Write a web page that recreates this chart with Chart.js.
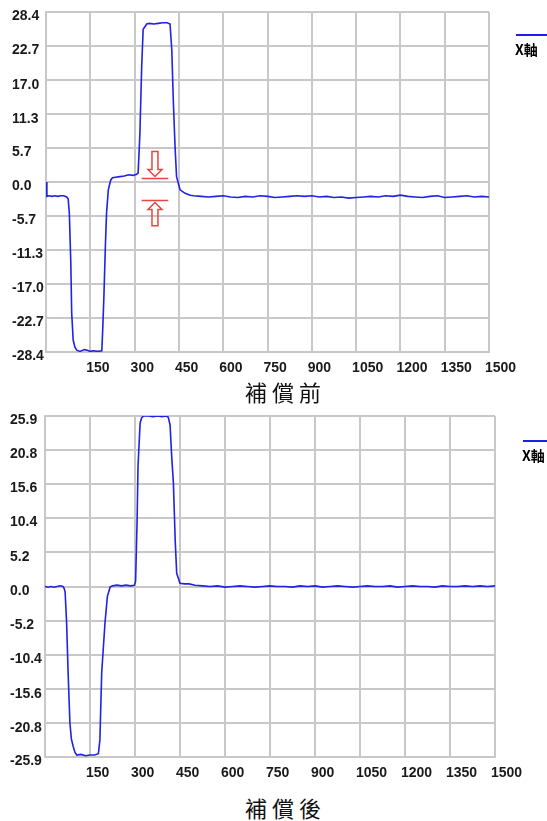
<!DOCTYPE html>
<html>
<head>
<meta charset="utf-8">
<script src="https://cdn.jsdelivr.net/npm/chart.js@4.4.0/dist/chart.umd.min.js"></script>
<style>
  body { margin: 0; background: #fff; width: 547px; height: 821px; position: relative; overflow: hidden; }
  .caixa { position: absolute; left: 0; width: 547px; height: 380px; }
  .titulo { position: absolute; left: 245px; font-family: 'Noto Sans CJK TC', sans-serif; font-size: 22px; line-height: 22px; letter-spacing: 5px; color: #111; white-space: nowrap; }
  .legLinha { position: absolute; height: 2px; background: #1e1ee6; }
  .legTexto { position: absolute; font-family: 'Noto Sans CJK TC', sans-serif; font-weight: bold; font-size: 14px; line-height: 15px; color: #000; }
</style>
</head>
<body>
<div class="caixa" style="top:0px"><canvas id="grafico1" width="547" height="380"></canvas></div>
<div class="caixa" style="top:404px"><canvas id="grafico2" width="547" height="380"></canvas></div>
<div class="titulo" style="top:380px">補償前</div>
<div class="titulo" style="top:796px">補償後</div>
<div class="legLinha" style="top:34px;left:516px;width:31px"></div>
<div class="legTexto" style="top:42px;left:515px">X軸</div>
<div class="legLinha" style="top:440px;left:523px;width:24px"></div>
<div class="legTexto" style="top:448px;left:522px">X軸</div>
<script>
// eixo x (amostras)
const xTicks = [0, 150, 300, 450, 600, 750, 900, 1050, 1200, 1350, 1500];

// rótulos do eixo y
const yTicksAntes = ['28.4', '22.7', '17.0', '11.3', '5.7', '0.0', '-5.7', '-11.3', '-17.0', '-22.7', '-28.4'];
const yTicksDepois = ['25.9', '20.8', '15.6', '10.4', '5.2', '0.0', '-5.2', '-10.4', '-15.6', '-20.8', '-25.9'];

// 補償前
const tempoAntes = [0, 3, 10, 20, 30, 40, 50, 60, 70, 75, 79, 84, 87, 92, 98, 104, 115, 130, 140, 150, 160, 175, 189,
    192, 196, 201, 205, 211, 219, 225, 235, 250, 265, 280, 295, 307, 312, 318, 324, 329, 341, 350, 365, 380, 395,
    410, 420, 426, 431, 437, 442, 454, 471, 488,
    500, 525, 550, 575, 600, 625, 650, 675, 700, 725, 750, 775, 800, 825, 850, 875, 900, 925, 950, 975, 1000,
    1025, 1050, 1075, 1100, 1125, 1150, 1175, 1200, 1225, 1250, 1275, 1300, 1325, 1350, 1375, 1400, 1425, 1450,
    1475, 1500];
const eixoXAntes = [0.0, -2.4, -2.3, -2.4, -2.3, -2.4, -2.3, -2.3, -2.5, -2.8, -5.2, -13.5, -21.9, -26.4, -27.6, -28.1,
    -28.3, -28.0, -28.1, -28.3, -28.2, -28.3, -28.2,
    -24.7, -19.2, -10.8, -5.2, -1.3, 0.3, 0.7, 0.8, 0.9, 1.0, 1.2, 1.1, 1.3, 1.5, 8.2, 19.3, 25.5, 26.4, 26.5,
    26.4, 26.5, 26.6, 26.6, 26.4, 22.0, 13.7, 5.9, 0.9, -1.3, -1.9, -2.2,
    -2.3, -2.4, -2.5, -2.4, -2.3, -2.5, -2.6, -2.4, -2.5, -2.3, -2.4, -2.6, -2.5, -2.4, -2.3, -2.4, -2.3, -2.5,
    -2.4, -2.6, -2.5, -2.7, -2.6, -2.5, -2.4, -2.5, -2.3, -2.4, -2.2, -2.4, -2.5, -2.6, -2.4, -2.3, -2.6, -2.5,
    -2.4, -2.3, -2.5, -2.4, -2.5];

// 補償後
const tempoDepois = [0, 10, 20, 30, 40, 50, 60, 64, 67, 72, 77, 83, 88, 94, 100, 106, 120, 135, 150, 165, 178,
    183, 189, 200, 208, 217, 225, 240, 255, 270, 285, 298, 302, 307, 310, 317, 322, 328, 345, 360, 375, 390, 405,
    411, 417, 422, 428, 434, 439, 450, 465, 480,
    500, 525, 550, 575, 600, 625, 650, 675, 700, 725, 750, 775, 800, 825, 850, 875, 900, 925, 950, 975, 1000,
    1025, 1050, 1075, 1100, 1125, 1150, 1175, 1200, 1225, 1250, 1275, 1300, 1325, 1350, 1375, 1400, 1425, 1450,
    1475, 1500];
const eixoXDepois = [0.0, -0.1, 0.0, -0.1, 0.0, 0.1, 0.0, -0.3, -0.8, -5.5, -13.0, -20.7, -23.2, -24.3, -25.2, -25.6,
    -25.5, -25.7, -25.6, -25.6, -25.4,
    -23.3, -13.1, -5.5, -1.5, -0.1, 0.1, 0.2, 0.1, 0.2, 0.1, 0.2, 0.8, 10.0, 18.2, 24.8, 25.6, 25.9, 25.9, 25.8,
    25.9, 25.8, 25.9, 25.7, 24.5, 20.0, 15.7, 7.0, 2.0, 0.5, 0.4, 0.4,
    0.2, 0.1, 0.0, 0.1, -0.1, 0.0, 0.1, 0.0, -0.1, 0.0, 0.1, 0.0, 0.0, -0.1, 0.1, 0.0, 0.1, -0.1, 0.0, 0.1, 0.0,
    -0.1, 0.0, 0.1, 0.0, 0.0, 0.1, -0.1, 0.0, 0.1, 0.0, 0.0, -0.1, 0.1, 0.0, 0.0, 0.1, 0.0, 0.1, 0.0, 0.1];

// setas vermelhas (início, centro, fim em x) / (topo, linha1, linha2, base em y)
const setaX = [324, 369, 414];
const setaY = [5.1, 0.6, -3.1, -7.3];

const corGrade = '#c8c8c8';
const fonteTick = { family: "'Liberation Sans', Arial, sans-serif", size: 14, weight: 'bold' };

function desenharSeta(ctx, xc, yIni, yFim, dir) {
    const h = 7 * dir;
    ctx.beginPath();
    ctx.moveTo(xc - 3, yIni);
    ctx.lineTo(xc - 3, yFim - h);
    ctx.lineTo(xc - 7, yFim - h);
    ctx.lineTo(xc, yFim);
    ctx.lineTo(xc + 7, yFim - h);
    ctx.lineTo(xc + 3, yFim - h);
    ctx.lineTo(xc + 3, yIni);
    ctx.closePath();
    ctx.stroke();
}

const setasPlugin = {
    id: 'setas',
    afterDatasetsDraw(chart) {
        if (chart.canvas.id !== 'grafico1') return;
        const ctx = chart.ctx;
        const x = chart.scales.x;
        const y = chart.scales.y;
        const x1 = x.getPixelForValue(setaX[0]);
        const xc = x.getPixelForValue(setaX[1]);
        const x2 = x.getPixelForValue(setaX[2]);
        const yTopo = y.getPixelForValue(setaY[0]);
        const yLinha1 = y.getPixelForValue(setaY[1]);
        const yLinha2 = y.getPixelForValue(setaY[2]);
        const yBase = y.getPixelForValue(setaY[3]);

        ctx.save();
        ctx.strokeStyle = '#e8453f';
        ctx.lineWidth = 1.5;
        ctx.beginPath();
        ctx.moveTo(x1, yLinha1);
        ctx.lineTo(x2, yLinha1);
        ctx.moveTo(x1, yLinha2);
        ctx.lineTo(x2, yLinha2);
        ctx.stroke();
        desenharSeta(ctx, xc, yTopo, yLinha1 - 2, 1);
        desenharSeta(ctx, xc, yBase, yLinha2 + 2, -1);
        ctx.restore();
    }
};

function criarGrafico(id, tempos, valores, yLabels, limite, pad, larguraY, alturaX) {
    const ctx = document.getElementById(id);
    const dados = tempos.map((t, i) => ({ x: t, y: valores[i] }));

    new Chart(ctx, {
        type: 'line',
        data: {
            datasets: [{
                label: 'X軸',
                data: dados,
                borderColor: '#2222e2',
                borderWidth: 1.6,
                pointRadius: 0,
                tension: 0,
                fill: false
            }]
        },
        options: {
            responsive: false,
            animation: false,
            devicePixelRatio: 1,
            layout: { padding: pad },
            plugins: {
                legend: { display: false },
                tooltip: { enabled: false }
            },
            scales: {
                x: {
                    type: 'linear',
                    min: 0,
                    max: 1500,
                    afterBuildTicks: (scale) => { scale.ticks = xTicks.map(v => ({ value: v })); },
                    afterFit: (scale) => { scale.height = alturaX; },
                    grid: { color: corGrade, lineWidth: 2, drawTicks: false },
                    border: { color: corGrade, width: 2 },
                    ticks: {
                        align: 'start',
                        labelOffset: -4,
                        padding: 8,
                        autoSkip: false,
                        maxRotation: 0,
                        color: '#1a1a1a',
                        font: fonteTick,
                        callback: (v) => v === 0 ? '' : String(v)
                    }
                },
                y: {
                    min: -limite,
                    max: limite,
                    afterBuildTicks: (scale) => { scale.ticks = yLabels.map(t => ({ value: parseFloat(t) })); },
                    afterFit: (scale) => { scale.width = larguraY; },
                    grid: { color: corGrade, lineWidth: 2, drawTicks: false },
                    border: { color: corGrade, width: 2 },
                    ticks: {
                        crossAlign: 'far',
                        labelOffset: 4.5,
                        autoSkip: false,
                        color: '#1a1a1a',
                        font: fonteTick,
                        callback: (v, i) => yLabels[i]
                    }
                }
            }
        },
        plugins: [setasPlugin]
    });
}

criarGrafico('grafico1', tempoAntes, eixoXAntes, yTicksAntes, 28.4,
    { left: 12, right: 58, top: 12, bottom: 0 }, 34, 28);
criarGrafico('grafico2', tempoDepois, eixoXDepois, yTicksDepois, 25.9,
    { left: 10, right: 52, top: 12, bottom: 0 }, 35, 27);
</script>
</body>
</html>
